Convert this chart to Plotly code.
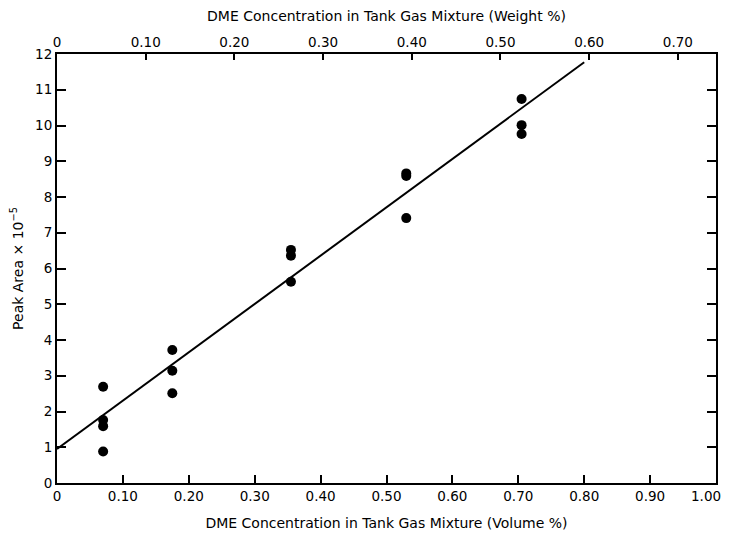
import plotly.graph_objects as go

# Data (volume % on bottom axis, peak area x 1e-5)
vol_pct = [0.07, 0.07, 0.07, 0.07,
           0.175, 0.175, 0.175,
           0.355, 0.355, 0.355,
           0.53, 0.53, 0.53,
           0.705, 0.705, 0.705]
peak_area = [2.69, 1.76, 1.59, 0.88,
             3.72, 3.14, 2.51,
             6.52, 6.36, 5.63,
             8.66, 8.59, 7.41,
             10.74, 10.01, 9.76]

fit_x = [0.0, 0.80]
fit_y = [0.95, 11.77]

x_ticks = [0, 0.1, 0.2, 0.3, 0.4, 0.5, 0.6, 0.7, 0.8, 0.9, 1.0]
x_labels = ["0", "0.10", "0.20", "0.30", "0.40", "0.50", "0.60", "0.70", "0.80", "0.90", "1.00"]
top_ticks = [0, 0.1, 0.2, 0.3, 0.4, 0.5, 0.6, 0.7]
top_labels = ["0", "0.10", "0.20", "0.30", "0.40", "0.50", "0.60", "0.70"]
top_range = [0, 0.743]
y_ticks = list(range(0, 13))

FONT = "DejaVu Sans"
TICK_SIZE = 13.5

fig = go.Figure()
fig.add_trace(go.Scatter(x=fit_x, y=fit_y, mode="lines",
                         line=dict(color="black", width=2), showlegend=False))
fig.add_trace(go.Scatter(x=vol_pct, y=peak_area, mode="markers",
                         marker=dict(color="black", size=10), showlegend=False))
fig.add_trace(go.Scatter(x=top_range, y=[0, 0], xaxis="x2", mode="markers",
                         marker=dict(opacity=0), showlegend=False, hoverinfo="skip"))

# the last bottom label sits at the page edge; draw it as an annotation nudged inward
bottom_text = x_labels[:-1] + [""]
fig.add_annotation(x=x_ticks[-1], y=0, xref="x", yref="y", text=x_labels[-1],
                   showarrow=False, xanchor="center", yanchor="top",
                   xshift=-10, yshift=-3, font=dict(family=FONT, size=TICK_SIZE, color="black"))

# page body adds an 8px offset, so the figure is smaller than the window
fig.update_layout(
    width=721, height=523,
    margin=dict(l=49, r=13, t=46, b=48),
    paper_bgcolor="white", plot_bgcolor="white",
    font=dict(family=FONT, color="black", size=TICK_SIZE),
    xaxis=dict(range=[0, 1.0], tickvals=x_ticks, ticktext=bottom_text,
               ticks="inside", ticklen=8, tickwidth=2, tickcolor="black",
               showline=True, linecolor="black", linewidth=2, mirror=False,
               showgrid=False, zeroline=False, automargin=False,
               ticklabeloverflow="allow",
               title=dict(text="DME Concentration in Tank Gas Mixture (Volume %)",
                          font=dict(size=14), standoff=16)),
    xaxis2=dict(range=top_range, tickvals=top_ticks, ticktext=top_labels,
                overlaying="x", side="top", anchor="y",
                ticks="inside", ticklen=6, tickwidth=2, tickcolor="black",
                showline=True, linecolor="black", linewidth=2,
                showgrid=False, zeroline=False, automargin=False,
                ticklabeloverflow="allow",
                title=dict(text="DME Concentration in Tank Gas Mixture (Weight %)",
                           font=dict(size=14), standoff=12)),
    yaxis=dict(range=[0, 12], tickvals=y_ticks,
               ticks="inside", ticklen=9, tickwidth=2, tickcolor="black",
               showline=True, linecolor="black", linewidth=2, mirror="ticks",
               showgrid=False, zeroline=False, automargin=False,
               ticklabeloverflow="allow",
               title=dict(text="Peak Area × 10<sup>−5</sup>", font=dict(size=14), standoff=12)),
)

fig.write_html("out.html")
